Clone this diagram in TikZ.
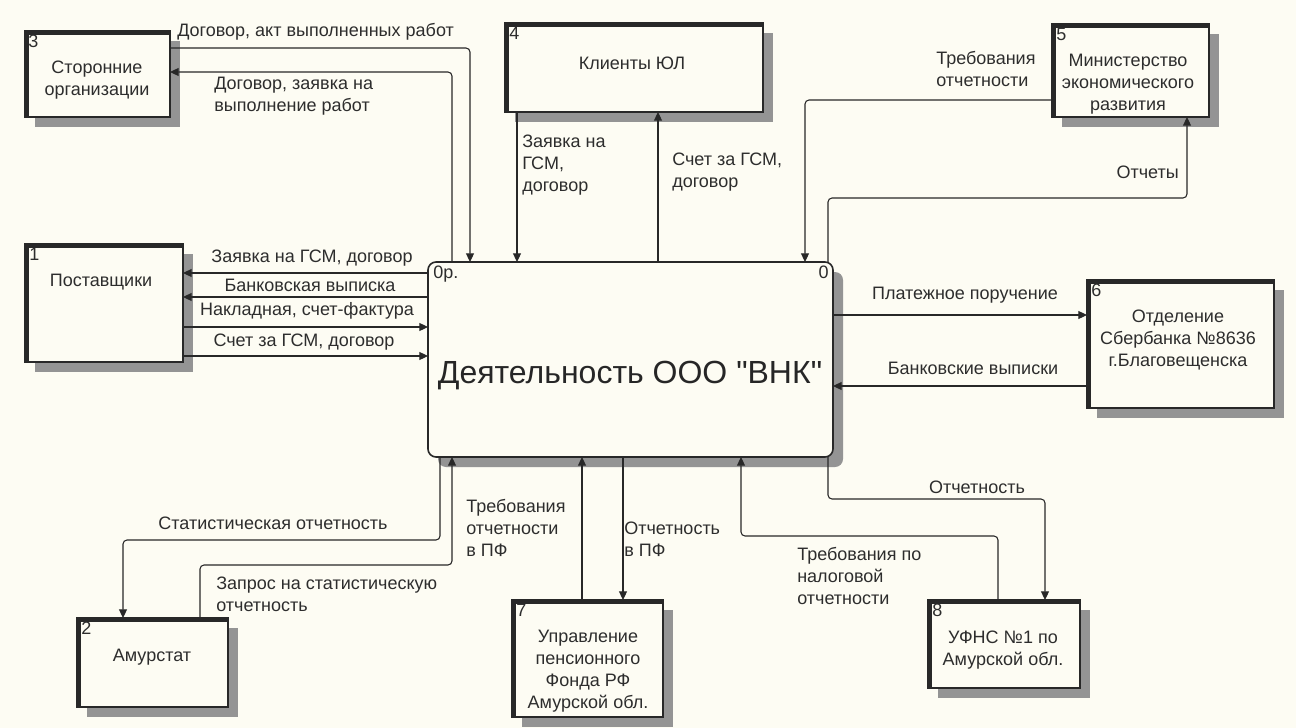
\documentclass[tikz,border=0pt]{standalone}
\usepackage{fontspec}
\setmainfont{Liberation Sans}[Ligatures=TeXOff]
\usetikzlibrary{arrows.meta,shadows,calc}
\definecolor{bg}{RGB}{253,252,243}
\definecolor{ln}{RGB}{40,40,40}
\definecolor{tx}{RGB}{45,45,45}
\begin{document}
\begin{tikzpicture}[x=0.75pt,y=-0.75pt,
  ent/.style={draw=ln, line width=0.9pt, fill=bg, inner sep=0pt, outer sep=0pt,
    drop shadow={shadow xshift=7.5pt, shadow yshift=-7.5pt, fill=black!42, opacity=1},
    path picture={\draw[ln, line width=6pt]
      (path picture bounding box.south west) -- (path picture bounding box.north west)
      -- (path picture bounding box.north east);}},
  act/.style={draw=ln, line width=1.2pt, fill=bg, rounded corners=6pt, inner sep=0pt, outer sep=0pt,
    drop shadow={shadow xshift=7.5pt, shadow yshift=-7.5pt, fill=black!42, opacity=1}},
  etext/.style={font=\fontsize{13.5}{16.5}\selectfont, text=tx, align=center, inner sep=0pt},
  num/.style={font=\fontsize{13.5}{16.5}\selectfont, text=tx, inner sep=0pt},
  lab/.style={font=\fontsize{13.5}{16.5}\selectfont, text=tx, align=left, inner sep=0pt},
  flow/.style={draw=ln, line width=0.8pt, rounded corners=3pt, -{Triangle[length=6.5pt,width=6pt]}}
]
\fill[bg] (0,0) rectangle (1296,728);
\useasboundingbox (0,0) rectangle (1296,728);

% ---------- boxes ----------
\node[act, minimum width=303.75pt, minimum height=146.25pt] (main) at (630.5,359.5) {};
\node[font=\fontsize{24}{28}\selectfont, text=black!85, inner sep=0pt] (mt) at (630,376) {Деятельность ООО "ВНК"};
\node[num, anchor=north west] (m0p) at (433,266) {0р.};
\node[num, anchor=north east] (m0) at (829,266) {0};

\node[ent, minimum width=108.75pt, minimum height=64.5pt] (s3) at (97.5,74) {};
\node[etext] (t3) at (97,80) {Сторонние\\организации};
\node[num, anchor=north west] (n3) at (28,35) {3};

\node[ent, minimum width=193.5pt, minimum height=66.75pt] (s4) at (634,67.5) {};
\node[etext] (t4) at (632,63) {Клиенты ЮЛ};
\node[num, anchor=north west] (n4) at (509,27) {4};

\node[ent, minimum width=117.75pt, minimum height=69.75pt] (s5) at (1130.5,70.5) {};
\node[etext] (t5) at (1128,84) {Министерство\\экономического\\развития};
\node[num, anchor=north west] (n5) at (1056,28) {5};

\node[ent, minimum width=118.5pt, minimum height=88.5pt] (s1) at (104,303) {};
\node[etext] (t1) at (101,282) {Поставщики};
\node[num, anchor=north west] (n1) at (29,248) {1};

\node[ent, minimum width=140.25pt, minimum height=96pt] (s6) at (1180.5,344) {};
\node[etext] (t6) at (1178,340) {Отделение\\Сбербанка №8636\\г.Благовещенска};
\node[num, anchor=north west] (n6) at (1091,284) {6};

\node[ent, minimum width=113.25pt, minimum height=66.75pt] (s2) at (152.5,662.5) {};
\node[etext] (t2) at (152,657) {Амурстат};
\node[num, anchor=north west] (n2) at (81,622) {2};

\node[ent, minimum width=113.25pt, minimum height=87.75pt] (s7) at (587.5,658.5) {};
\node[etext] (t7) at (588,671) {Управление\\пенсионного\\Фонда РФ\\Амурской обл.};
\node[num, anchor=north west] (n7) at (516,604) {7};

\node[ent, minimum width=114pt, minimum height=66pt] (s8) at (1004,644) {};
\node[etext] (t8) at (1003,650) {УФНС №1 по\\Амурской обл.};
\node[num, anchor=north west] (n8) at (932,604) {8};

% ---------- connectors ----------
\draw[flow] (s3.east |- 0,48) -| (main.north -| 470,0);
\draw[flow] (main.north -| 452,0) |- (s3.east |- 0,72);
\draw[flow] (s4.south -| 517,0) -- (main.north -| 517,0);
\draw[flow] (main.north -| 658,0) -- (s4.south -| 658,0);
\draw[flow] (s5.west |- 0,100) -| (main.north -| 805,0);
\draw[flow] (main.north -| 828,0) |- (1187,198) -- (s5.south -| 1187,0);

\draw[flow] (main.west |- 0,273) -- (s1.east |- 0,273);
\draw[flow] (main.west |- 0,297) -- (s1.east |- 0,297);
\draw[flow] (s1.east |- 0,327) -- (main.west |- 0,327);
\draw[flow] (s1.east |- 0,356) -- (main.west |- 0,356);

\draw[flow] (main.east |- 0,315) -- (s6.west |- 0,315);
\draw[flow] (s6.west |- 0,386) -- (main.east |- 0,386);

\draw[flow] (main.south -| 440,0) |- (123,540) -- (s2.north -| 123,0);
\draw[flow] (s2.north -| 200,0) |- (452,565) -- (main.south -| 452,0);
\draw[flow] (s7.north -| 582,0) -- (main.south -| 582,0);
\draw[flow] (main.south -| 623,0) -- (s7.north -| 623,0);
\draw[flow] (main.south -| 828,0) |- (1045,499) -- (s8.north -| 1045,0);
\draw[flow] (s8.north -| 998,0) |- (741,536) -- (main.south -| 741,0);

% ---------- labels ----------
\node[lab, anchor=west] (l1) at (177,32) {Договор, акт выполненных работ};
\node[lab, anchor=west] (l2) at (214,96) {Договор, заявка на\\выполнение работ};
\node[lab, anchor=west] (l3) at (522,165) {Заявка на\\ГСМ,\\договор};
\node[lab, anchor=west] (l4) at (672,172) {Счет за ГСМ,\\договор};
\node[lab, anchor=west] (l5) at (936,69) {Требования\\отчетности};
\node[lab, anchor=east] (l6) at (1179,172) {Отчеты};
\node[lab] (l7) at (312,258) {Заявка на ГСМ, договор};
\node[lab] (l8) at (310,285) {Банковская выписка};
\node[lab] (l9) at (307,311) {Накладная, счет-фактура};
\node[lab] (l10) at (304,342) {Счет за ГСМ, договор};
\node[lab] (l11) at (965,295) {Платежное поручение};
\node[lab] (l12) at (973,368) {Банковские выписки};
\node[lab] (l13) at (273,523) {Статистическая отчетность};
\node[lab, anchor=west] (l14) at (216,594) {Запрос на статистическую\\отчетность};
\node[lab, anchor=west] (l15) at (466,528) {Требования\\отчетности\\в ПФ};
\node[lab, anchor=west] (l16) at (624,539) {Отчетность\\в ПФ};
\node[lab] (l17) at (977,487) {Отчетность};
\node[lab, anchor=west] (l18) at (797,576) {Требования по\\налоговой\\отчетности};
\end{tikzpicture}
\end{document}
